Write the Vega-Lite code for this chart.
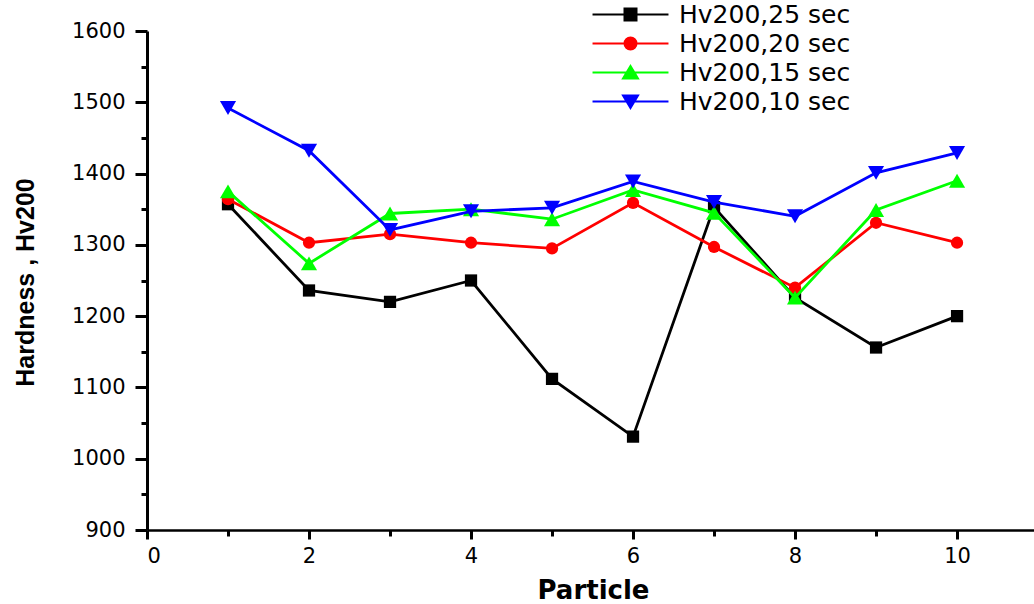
{
  "$schema": "https://vega.github.io/schema/vega-lite/v6.json",
  "autosize": {"type": "none"},
  "width": 887,
  "height": 499,
  "padding": {"left": 147, "top": 31, "right": 0, "bottom": 74},
  "background": "white",
  "config": {
    "view": {"stroke": null},
    "axis": {
      "grid": false,
      "domainColor": "black",
      "tickColor": "black",
      "labelColor": "black",
      "titleColor": "black",
      "tickWidth": 3,
      "labelFont": "DejaVu Sans",
      "labelFontSize": 21,
      "labelFontWeight": "normal"
    }
  },
  "datasets": {
    "hardness": [
      {"particle": 1, "hardness": 1357, "series": "Hv200,25 sec"},
      {"particle": 2, "hardness": 1236, "series": "Hv200,25 sec"},
      {"particle": 3, "hardness": 1220, "series": "Hv200,25 sec"},
      {"particle": 4, "hardness": 1250, "series": "Hv200,25 sec"},
      {"particle": 5, "hardness": 1112, "series": "Hv200,25 sec"},
      {"particle": 6, "hardness": 1031, "series": "Hv200,25 sec"},
      {"particle": 7, "hardness": 1353, "series": "Hv200,25 sec"},
      {"particle": 8, "hardness": 1226, "series": "Hv200,25 sec"},
      {"particle": 9, "hardness": 1156, "series": "Hv200,25 sec"},
      {"particle": 10, "hardness": 1200, "series": "Hv200,25 sec"},
      {"particle": 1, "hardness": 1364, "series": "Hv200,20 sec"},
      {"particle": 2, "hardness": 1303, "series": "Hv200,20 sec"},
      {"particle": 3, "hardness": 1315, "series": "Hv200,20 sec"},
      {"particle": 4, "hardness": 1303, "series": "Hv200,20 sec"},
      {"particle": 5, "hardness": 1295, "series": "Hv200,20 sec"},
      {"particle": 6, "hardness": 1359, "series": "Hv200,20 sec"},
      {"particle": 7, "hardness": 1297, "series": "Hv200,20 sec"},
      {"particle": 8, "hardness": 1240, "series": "Hv200,20 sec"},
      {"particle": 9, "hardness": 1331, "series": "Hv200,20 sec"},
      {"particle": 10, "hardness": 1303, "series": "Hv200,20 sec"},
      {"particle": 1, "hardness": 1375, "series": "Hv200,15 sec"},
      {"particle": 2, "hardness": 1274, "series": "Hv200,15 sec"},
      {"particle": 3, "hardness": 1344, "series": "Hv200,15 sec"},
      {"particle": 4, "hardness": 1350, "series": "Hv200,15 sec"},
      {"particle": 5, "hardness": 1336, "series": "Hv200,15 sec"},
      {"particle": 6, "hardness": 1377, "series": "Hv200,15 sec"},
      {"particle": 7, "hardness": 1345, "series": "Hv200,15 sec"},
      {"particle": 8, "hardness": 1226, "series": "Hv200,15 sec"},
      {"particle": 9, "hardness": 1349, "series": "Hv200,15 sec"},
      {"particle": 10, "hardness": 1390, "series": "Hv200,15 sec"},
      {"particle": 1, "hardness": 1492, "series": "Hv200,10 sec"},
      {"particle": 2, "hardness": 1432, "series": "Hv200,10 sec"},
      {"particle": 3, "hardness": 1321, "series": "Hv200,10 sec"},
      {"particle": 4, "hardness": 1347, "series": "Hv200,10 sec"},
      {"particle": 5, "hardness": 1352, "series": "Hv200,10 sec"},
      {"particle": 6, "hardness": 1389, "series": "Hv200,10 sec"},
      {"particle": 7, "hardness": 1360, "series": "Hv200,10 sec"},
      {"particle": 8, "hardness": 1340, "series": "Hv200,10 sec"},
      {"particle": 9, "hardness": 1401, "series": "Hv200,10 sec"},
      {"particle": 10, "hardness": 1429, "series": "Hv200,10 sec"}
    ]
  },
  "data": {"name": "hardness"},
  "encoding": {
    "x": {"field": "particle", "type": "quantitative", "scale": {"domain": [0, 10.95], "nice": false, "zero": false}, "axis": null},
    "y": {"field": "hardness", "type": "quantitative", "scale": {"domain": [900, 1600], "nice": false, "zero": false}, "axis": null}
  },
  "layer": [
    {
      "transform": [{"filter": "datum.series === 'Hv200,25 sec'"}],
      "mark": {"type": "line", "strokeWidth": 2.8, "color": "#000000"},
      "encoding": {
        "x": {
          "field": "particle", "type": "quantitative",
          "axis": {
            "orient": "bottom", "values": [0, 2, 4, 6, 8, 10], "format": "d",
            "domainWidth": 2.5, "tickSize": 9, "labelPadding": 6,
            "title": "Particle", "titleFont": "DejaVu Sans", "titleFontSize": 26, "titleFontWeight": "bold",
            "titleX": 446, "titleY": 68, "titleBaseline": "alphabetic", "titleAlign": "center"
          }
        },
        "y": {
          "field": "hardness", "type": "quantitative",
          "axis": {
            "orient": "left", "values": [900, 1000, 1100, 1200, 1300, 1400, 1500, 1600], "format": "d",
            "domainWidth": 3, "tickSize": 12, "labelPadding": 10,
            "title": "Hardness , Hv200", "titleFont": "Liberation Sans", "titleFontSize": 25, "titleFontWeight": "bold",
            "titleX": -122, "titleY": 251, "titleAngle": -90, "titleBaseline": "middle", "titleAlign": "center"
          }
        }
      }
    },
    {
      "transform": [{"filter": "datum.series === 'Hv200,25 sec'"}],
      "mark": {"type": "point", "shape": "square", "filled": true, "size": 150, "opacity": 1, "color": "#000000"}
    },
    {
      "transform": [{"filter": "datum.series === 'Hv200,20 sec'"}],
      "mark": {"type": "line", "strokeWidth": 2.8, "color": "#ff0000"}
    },
    {
      "transform": [{"filter": "datum.series === 'Hv200,20 sec'"}],
      "mark": {"type": "point", "shape": "circle", "filled": true, "size": 150, "opacity": 1, "color": "#ff0000"}
    },
    {
      "transform": [{"filter": "datum.series === 'Hv200,15 sec'"}],
      "mark": {"type": "line", "strokeWidth": 2.8, "color": "#00ff00"}
    },
    {
      "transform": [{"filter": "datum.series === 'Hv200,15 sec'"}],
      "mark": {"type": "point", "shape": "triangle-up", "filled": true, "size": 260, "opacity": 1, "color": "#00ff00"}
    },
    {
      "transform": [{"filter": "datum.series === 'Hv200,10 sec'"}],
      "mark": {"type": "line", "strokeWidth": 2.8, "color": "#0000ff"}
    },
    {
      "transform": [{"filter": "datum.series === 'Hv200,10 sec'"}],
      "mark": {"type": "point", "shape": "triangle-down", "filled": true, "size": 260, "opacity": 1, "color": "#0000ff"}
    },
    {
      "mark": {"type": "point", "filled": true, "opacity": 0},
      "encoding": {
        "x": {
          "field": "particle", "type": "quantitative",
          "axis": {"orient": "bottom", "values": [1, 3, 5, 7, 9], "labels": false, "domain": false, "tickSize": 6, "title": null}
        },
        "y": {
          "field": "hardness", "type": "quantitative",
          "axis": {"orient": "left", "values": [950, 1050, 1150, 1250, 1350, 1450, 1550], "labels": false, "domain": false, "tickSize": 6, "title": null}
        },
        "color": {
          "field": "series", "type": "nominal",
          "scale": {
            "domain": ["Hv200,25 sec", "Hv200,20 sec", "Hv200,15 sec", "Hv200,10 sec"],
            "range": ["#000000", "#ff0000", "#00ff00", "#0000ff"]
          },
          "legend": {
            "orient": "none", "legendX": 471, "legendY": -29,
            "title": null, "padding": 0,
            "symbolSize": 144, "symbolStrokeWidth": 2,
            "labelFont": "DejaVu Sans", "labelFontSize": 25, "labelColor": "black",
            "labelOffset": 36, "labelLimit": 400, "rowPadding": 3,
            "encode": {
              "symbols": {"update": {"stroke": {"scale": "color", "field": "value"}, "opacity": {"value": 1}}},
              "labels": {"update": {"text": {"signal": "datum.index === 0 ? datum.label : '\u2002' + datum.label"}}}
            }
          }
        },
        "shape": {
          "field": "series", "type": "nominal",
          "scale": {
            "domain": ["Hv200,25 sec", "Hv200,20 sec", "Hv200,15 sec", "Hv200,10 sec"],
            "range": [
              "M-6.33,0H6.33M-1,-1H1V1H-1Z",
              "M-6.33,0H6.33M-1,0A1,1,0,1,0,1,0A1,1,0,1,0,-1,0Z",
              "M-6.33,0H6.33M0,-1.1L1.25,1L-1.25,1Z",
              "M-6.33,0H6.33M0,1.1L1.25,-1L-1.25,-1Z"
            ]
          },
          "legend": {
            "orient": "none", "legendX": 471, "legendY": -29,
            "title": null, "padding": 0,
            "symbolSize": 144, "symbolStrokeWidth": 2,
            "labelFont": "DejaVu Sans", "labelFontSize": 25, "labelColor": "black",
            "labelOffset": 36, "labelLimit": 400, "rowPadding": 3,
            "encode": {
              "symbols": {"update": {"stroke": {"scale": "color", "field": "value"}, "opacity": {"value": 1}}},
              "labels": {"update": {"text": {"signal": "datum.index === 0 ? datum.label : '\u2002' + datum.label"}}}
            }
          }
        }
      }
    }
  ],
  "resolve": {"axis": {"x": "independent", "y": "independent"}}
}
